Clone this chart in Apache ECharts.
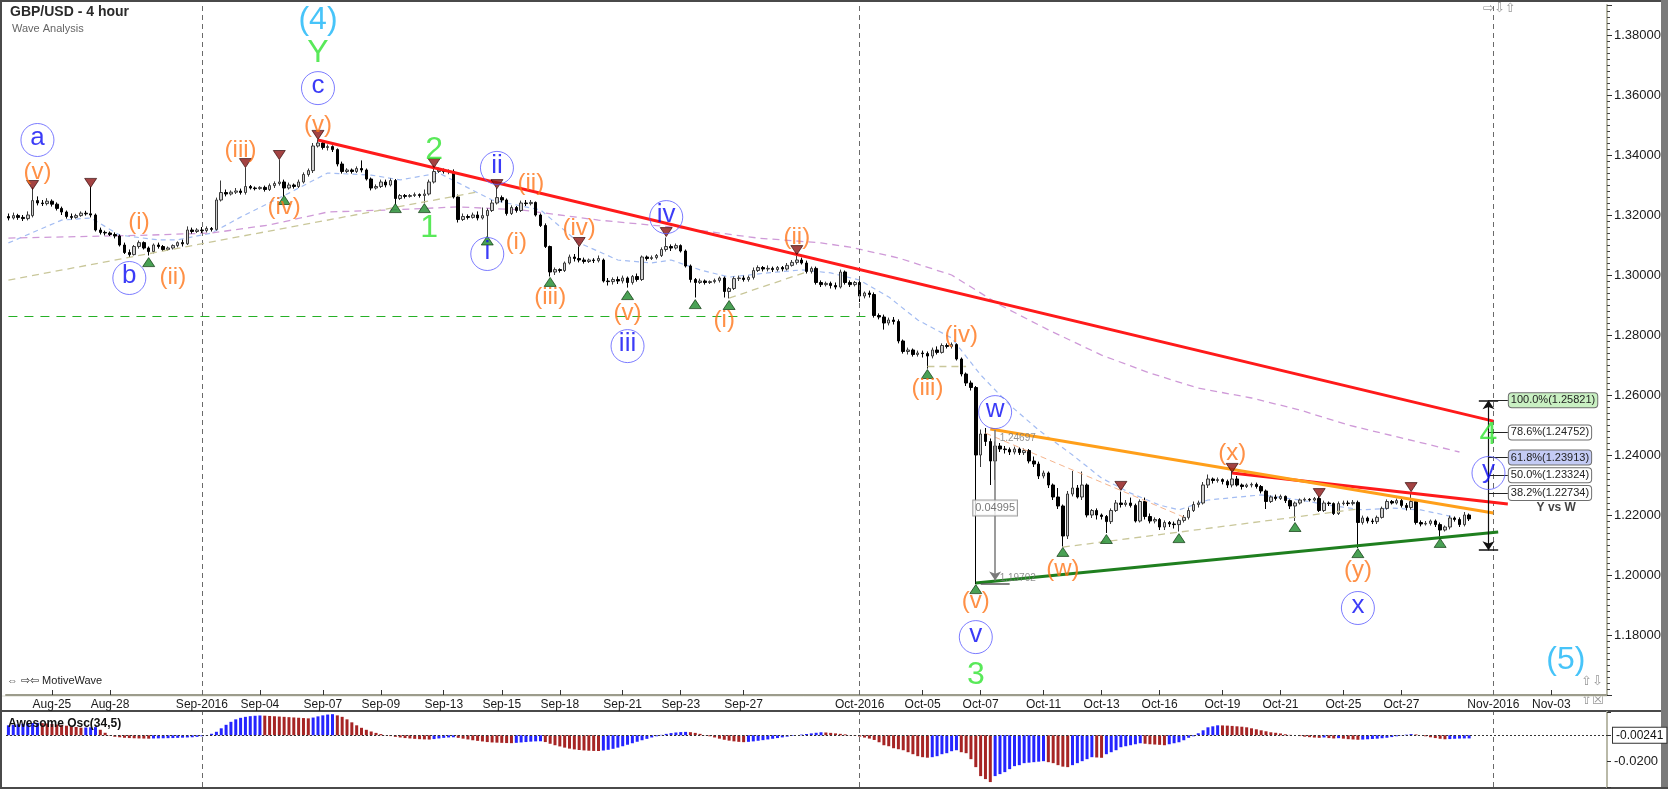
<!DOCTYPE html>
<html><head><meta charset="utf-8">
<script src="https://cdn.jsdelivr.net/npm/echarts/dist/echarts.min.js"></script>
<style>html,body{margin:0;padding:0;background:#fff}#c{width:1668px;height:789px}</style>
</head><body><div id="c"></div><script>
// ---------- DATA ----------
const sessions = [
 ['08-23',3],['08-24',6],['08-25',6],['08-26',6],['08-28',1],['08-29',6],['08-30',6],['08-31',6],
 ['09-01',6],['09-02',6],['09-04',1],['09-05',6],['09-06',6],['09-07',6],['09-08',6],['09-09',6],
 ['09-11',1],['09-12',6],['09-13',6],['09-14',6],['09-15',6],['09-16',6],
 ['09-18',1],['09-19',6],['09-20',6],['09-21',6],['09-22',6],['09-23',6],
 ['09-25',1],['09-26',6],['09-27',6],['09-28',6],['09-29',6],['09-30',6],
 ['10-02',1],['10-03',6],['10-04',6],['10-05',6],['10-06',6],['10-07',6],
 ['10-09',1],['10-10',6],['10-11',6],['10-12',6],['10-13',6],['10-14',6],
 ['10-16',1],['10-17',6],['10-18',6],['10-19',6],['10-20',6],['10-21',6],
 ['10-23',1],['10-24',6],['10-25',6],['10-26',6],['10-27',6],['10-28',6],
 ['10-30',1],['10-31',6],['11-01',6],['11-02',6],['11-03',6],['11-04',6]
];
const dateTicks = [['08-25','Aug-25'],['08-28','Aug-28'],['09-01','Sep-2016'],['09-04','Sep-04'],['09-07','Sep-07'],['09-09','Sep-09'],['09-13','Sep-13'],['09-15','Sep-15'],['09-18','Sep-18'],['09-21','Sep-21'],['09-23','Sep-23'],['09-27','Sep-27'],['10-02','Oct-2016'],['10-05','Oct-05'],['10-07','Oct-07'],['10-11','Oct-11'],['10-13','Oct-13'],['10-16','Oct-16'],['10-19','Oct-19'],['10-21','Oct-21'],['10-25','Oct-25'],['10-27','Oct-27'],['11-01','Nov-2016'],['11-03','Nov-03']];
const monthStarts = ['09-01','10-02','11-01'];

// [open, close, low, high]
const candles = [
[1.3195,1.3190,1.3182,1.3205],[1.3190,1.3198,1.3185,1.3208],[1.3198,1.3192,1.3184,1.3204],
[1.3192,1.3188,1.3180,1.3200],[1.3188,1.3200,1.3182,1.3212],[1.3198,1.3248,1.3192,1.3292],[1.3248,1.3240,1.3232,1.3262],[1.3240,1.3238,1.3230,1.3250],[1.3238,1.3246,1.3232,1.3256],
[1.3246,1.3236,1.3228,1.3252],[1.3236,1.3222,1.3215,1.3242],[1.3222,1.3210,1.3200,1.3228],[1.3210,1.3195,1.3188,1.3215],[1.3195,1.3192,1.3185,1.3205],[1.3192,1.3198,1.3188,1.3204],
[1.3198,1.3206,1.3194,1.3212],[1.3206,1.3204,1.3198,1.3214],[1.3204,1.3200,1.3192,1.3295],[1.3200,1.3150,1.3145,1.3205],[1.3150,1.3142,1.3135,1.3158],[1.3142,1.3140,1.3132,1.3148],
[1.3140,1.3135,1.3130,1.3145],
[1.3135,1.3130,1.3122,1.3142],[1.3130,1.3100,1.3095,1.3135],[1.3100,1.3075,1.3070,1.3108],[1.3075,1.3068,1.3060,1.3085],[1.3068,1.3095,1.3065,1.3100],[1.3095,1.3108,1.3088,1.3115],
[1.3108,1.3090,1.3085,1.3112],[1.3090,1.3078,1.3065,1.3095],[1.3078,1.3100,1.3072,1.3105],[1.3100,1.3095,1.3088,1.3108],[1.3095,1.3085,1.3080,1.3100],[1.3085,1.3090,1.3080,1.3095],
[1.3090,1.3098,1.3085,1.3102],[1.3098,1.3108,1.3092,1.3112],[1.3108,1.3104,1.3095,1.3118],[1.3104,1.3150,1.3100,1.3162],[1.3150,1.3145,1.3138,1.3158],[1.3145,1.3150,1.3140,1.3156],
[1.3150,1.3148,1.3140,1.3160],[1.3148,1.3155,1.3142,1.3162],[1.3155,1.3152,1.3145,1.3160],[1.3152,1.3250,1.3148,1.3258],[1.3250,1.3275,1.3245,1.3315],[1.3275,1.3270,1.3262,1.3285],
[1.3270,1.3276,1.3265,1.3282],[1.3276,1.3280,1.3270,1.3290],[1.3280,1.3275,1.3268,1.3288],[1.3275,1.3295,1.3268,1.3358],[1.3295,1.3290,1.3285,1.3300],[1.3290,1.3288,1.3282,1.3295],
[1.3288,1.3292,1.3284,1.3296],
[1.3292,1.3285,1.3278,1.3298],[1.3285,1.3298,1.3280,1.3305],[1.3298,1.3305,1.3290,1.3312],[1.3305,1.3310,1.3298,1.3385],[1.3310,1.3290,1.3262,1.3318],[1.3290,1.3300,1.3285,1.3308],
[1.3300,1.3295,1.3288,1.3305],[1.3295,1.3310,1.3290,1.3318],[1.3310,1.3335,1.3305,1.3342],[1.3335,1.3348,1.3328,1.3355],[1.3348,1.3430,1.3340,1.3440],[1.3430,1.3440,1.3425,1.3452],
[1.3440,1.3425,1.3418,1.3445],[1.3425,1.3428,1.3415,1.3435],[1.3428,1.3418,1.3410,1.3432],[1.3418,1.3370,1.3362,1.3422],[1.3370,1.3345,1.3338,1.3378],[1.3345,1.3350,1.3340,1.3356],
[1.3350,1.3345,1.3338,1.3355],[1.3345,1.3355,1.3340,1.3362],[1.3355,1.3350,1.3342,1.3382],[1.3350,1.3320,1.3315,1.3355],[1.3320,1.3290,1.3282,1.3325],[1.3290,1.3295,1.3285,1.3302],
[1.3295,1.3310,1.3290,1.3318],[1.3310,1.3300,1.3292,1.3318],[1.3300,1.3315,1.3295,1.3322],[1.3315,1.3255,1.3235,1.3320],[1.3255,1.3265,1.3250,1.3270],[1.3265,1.3262,1.3255,1.3270],
[1.3262,1.3265,1.3258,1.3270],
[1.3265,1.3268,1.3260,1.3275],[1.3268,1.3265,1.3258,1.3272],[1.3265,1.3270,1.3240,1.3285],[1.3270,1.3310,1.3265,1.3318],[1.3310,1.3345,1.3305,1.3365],[1.3345,1.3350,1.3340,1.3358],
[1.3350,1.3345,1.3338,1.3355],[1.3345,1.3348,1.3336,1.3352],[1.3345,1.3260,1.3255,1.3352],[1.3260,1.3185,1.3175,1.3268],[1.3185,1.3195,1.3180,1.3205],[1.3195,1.3192,1.3185,1.3202],
[1.3192,1.3200,1.3188,1.3208],[1.3200,1.3190,1.3182,1.3212],[1.3190,1.3198,1.3185,1.3225],[1.3198,1.3215,1.3130,1.3222],[1.3215,1.3240,1.3210,1.3250],[1.3240,1.3258,1.3235,1.3290],
[1.3258,1.3250,1.3242,1.3265],[1.3250,1.3205,1.3198,1.3255],[1.3205,1.3225,1.3200,1.3232],[1.3225,1.3215,1.3208,1.3230],[1.3215,1.3240,1.3210,1.3248],[1.3240,1.3238,1.3230,1.3250],
[1.3238,1.3242,1.3232,1.3250],[1.3242,1.3200,1.3195,1.3245],[1.3200,1.3165,1.3160,1.3205],[1.3165,1.3095,1.3090,1.3172],[1.3095,1.3010,1.2995,1.3098],[1.3010,1.3018,1.3000,1.3025],
[1.3018,1.3015,1.3008,1.3022],
[1.3015,1.3040,1.3010,1.3045],[1.3040,1.3060,1.3035,1.3068],[1.3060,1.3055,1.3045,1.3070],[1.3055,1.3050,1.3042,1.3095],[1.3050,1.3045,1.3038,1.3058],[1.3045,1.3050,1.3040,1.3055],
[1.3050,1.3048,1.3040,1.3056],[1.3048,1.3055,1.3042,1.3065],[1.3050,1.2980,1.2975,1.3055],[1.2980,1.2978,1.2965,1.2990],[1.2978,1.2985,1.2968,1.2992],[1.2985,1.2980,1.2970,1.2995],
[1.2980,1.2990,1.2972,1.2998],[1.2990,1.2975,1.2958,1.2995],[1.2975,1.2995,1.2968,1.3000],[1.2995,1.2985,1.2978,1.3005],[1.2985,1.3060,1.2980,1.3065],[1.3060,1.3055,1.3048,1.3065],
[1.3055,1.3058,1.3050,1.3065],[1.3058,1.3065,1.3052,1.3070],[1.3065,1.3085,1.3060,1.3092],[1.3085,1.3095,1.3078,1.3125],[1.3095,1.3090,1.3080,1.3102],[1.3090,1.3098,1.3085,1.3105],
[1.3098,1.3080,1.3075,1.3102],[1.3080,1.3030,1.3025,1.3085],[1.3030,1.2985,1.2975,1.3035],[1.2985,1.2975,1.2925,1.2990],[1.2975,1.2980,1.2970,1.2988],[1.2980,1.2975,1.2968,1.2985],
[1.2975,1.2978,1.2970,1.2982],
[1.2978,1.2982,1.2972,1.2988],[1.2982,1.2990,1.2975,1.2995],[1.2990,1.2945,1.2925,1.2995],[1.2945,1.2955,1.2922,1.2960],[1.2955,1.2988,1.2950,1.2995],[1.2988,1.2990,1.2980,1.2998],
[1.2990,1.2985,1.2978,1.2998],[1.2985,1.2992,1.2978,1.2998],[1.2992,1.3015,1.2985,1.3025],[1.3015,1.3025,1.3010,1.3032],[1.3025,1.3020,1.3012,1.3030],[1.3020,1.3022,1.3012,1.3032],
[1.3022,1.3018,1.3010,1.3028],[1.3018,1.3025,1.3012,1.3030],[1.3025,1.3020,1.3012,1.3030],[1.3020,1.3032,1.3015,1.3040],[1.3032,1.3042,1.3028,1.3050],[1.3042,1.3050,1.3035,1.3065],
[1.3050,1.3040,1.3035,1.3058],[1.3040,1.3012,1.3005,1.3048],[1.3012,1.3022,1.3005,1.3028],[1.3022,1.2975,1.2968,1.3028],[1.2975,1.2968,1.2960,1.2982],[1.2968,1.2972,1.2962,1.2978],
[1.2972,1.2965,1.2955,1.2978],[1.2965,1.2960,1.2952,1.2975],[1.2960,1.3010,1.2955,1.3018],[1.3010,1.2975,1.2968,1.3015],[1.2975,1.2968,1.2960,1.2982],[1.2968,1.2975,1.2962,1.2980],
[1.2975,1.2930,1.2910,1.2980],
[1.2930,1.2940,1.2922,1.2945],[1.2940,1.2935,1.2925,1.2948],[1.2935,1.2865,1.2858,1.2942],[1.2865,1.2860,1.2852,1.2872],[1.2860,1.2840,1.2818,1.2868],[1.2840,1.2850,1.2832,1.2858],
[1.2850,1.2845,1.2835,1.2860],[1.2845,1.2780,1.2772,1.2852],[1.2780,1.2745,1.2738,1.2785],[1.2745,1.2750,1.2735,1.2758],[1.2750,1.2735,1.2728,1.2755],[1.2735,1.2740,1.2728,1.2748],
[1.2740,1.2738,1.2725,1.2748],[1.2738,1.2730,1.2688,1.2745],[1.2730,1.2750,1.2722,1.2758],[1.2750,1.2742,1.2735,1.2762],[1.2742,1.2765,1.2738,1.2772],[1.2765,1.2762,1.2755,1.2772],
[1.2762,1.2768,1.2755,1.2775],[1.2768,1.2720,1.2715,1.2772],[1.2720,1.2670,1.2662,1.2725],[1.2670,1.2640,1.2630,1.2675],[1.2640,1.2625,1.2615,1.2648],[1.2625,1.2400,1.1970,1.2630],
[1.2400,1.2470,1.2360,1.2485],[1.2470,1.2445,1.2430,1.2490],[1.2445,1.2380,1.2300,1.2455],[1.2380,1.2430,1.2317,1.2445],[1.2430,1.2420,1.2410,1.2440],[1.2420,1.2418,1.2405,1.2430],
[1.2418,1.2410,1.2400,1.2425],
[1.2410,1.2420,1.2402,1.2428],[1.2420,1.2408,1.2400,1.2425],[1.2408,1.2415,1.2400,1.2422],[1.2415,1.2380,1.2372,1.2420],[1.2380,1.2370,1.2360,1.2395],[1.2370,1.2330,1.2320,1.2378],
[1.2330,1.2340,1.2322,1.2348],[1.2340,1.2300,1.2290,1.2345],[1.2300,1.2260,1.2250,1.2305],[1.2260,1.2230,1.2220,1.2290],[1.2230,1.2130,1.2095,1.2235],[1.2130,1.2270,1.2120,1.2280],
[1.2270,1.2290,1.2262,1.2347],[1.2290,1.2260,1.2255,1.2300],[1.2260,1.2300,1.2250,1.2345],[1.2300,1.2200,1.2192,1.2305],[1.2200,1.2215,1.2190,1.2220],[1.2215,1.2200,1.2185,1.2222],
[1.2200,1.2195,1.2185,1.2205],[1.2195,1.2178,1.2140,1.2200],[1.2178,1.2215,1.2170,1.2222],[1.2215,1.2240,1.2210,1.2250],[1.2240,1.2235,1.2225,1.2278],[1.2235,1.2240,1.2228,1.2250],
[1.2240,1.2232,1.2225,1.2258],[1.2232,1.2180,1.2175,1.2238],[1.2180,1.2245,1.2175,1.2252],[1.2245,1.2195,1.2185,1.2258],[1.2195,1.2180,1.2172,1.2205],[1.2180,1.2185,1.2172,1.2192],
[1.2185,1.2160,1.2150,1.2190],
[1.2160,1.2175,1.2150,1.2182],[1.2175,1.2170,1.2160,1.2180],[1.2170,1.2168,1.2155,1.2178],[1.2168,1.2182,1.2145,1.2188],[1.2182,1.2192,1.2175,1.2200],[1.2192,1.2215,1.2185,1.2225],
[1.2215,1.2235,1.2210,1.2245],[1.2235,1.2240,1.2225,1.2248],[1.2240,1.2300,1.2235,1.2310],[1.2300,1.2320,1.2290,1.2335],[1.2320,1.2315,1.2305,1.2325],[1.2315,1.2318,1.2308,1.2325],
[1.2318,1.2312,1.2302,1.2322],[1.2312,1.2300,1.2290,1.2318],[1.2300,1.2320,1.2292,1.2345],[1.2320,1.2300,1.2295,1.2330],[1.2300,1.2295,1.2285,1.2305],[1.2295,1.2300,1.2290,1.2305],
[1.2300,1.2302,1.2292,1.2308],[1.2302,1.2295,1.2288,1.2308],[1.2295,1.2280,1.2272,1.2300],[1.2280,1.2245,1.2220,1.2285],[1.2245,1.2260,1.2240,1.2265],[1.2260,1.2255,1.2248,1.2268],
[1.2255,1.2262,1.2250,1.2268],[1.2262,1.2248,1.2240,1.2265],[1.2248,1.2230,1.2220,1.2252],[1.2230,1.2240,1.2180,1.2245],[1.2240,1.2250,1.2235,1.2255],[1.2250,1.2252,1.2245,1.2258],
[1.2252,1.2250,1.2245,1.2256],
[1.2250,1.2255,1.2245,1.2260],[1.2255,1.2215,1.2210,1.2262],[1.2215,1.2240,1.2210,1.2248],[1.2240,1.2238,1.2230,1.2245],[1.2238,1.2205,1.2200,1.2242],[1.2205,1.2238,1.2200,1.2245],
[1.2238,1.2240,1.2232,1.2248],[1.2240,1.2238,1.2230,1.2248],[1.2238,1.2242,1.2232,1.2250],[1.2242,1.2175,1.2090,1.2248],[1.2175,1.2190,1.2168,1.2198],[1.2190,1.2180,1.2172,1.2195],
[1.2180,1.2178,1.2170,1.2188],[1.2178,1.2192,1.2170,1.2198],[1.2192,1.2222,1.2188,1.2228],[1.2222,1.2245,1.2218,1.2252],[1.2245,1.2240,1.2235,1.2250],[1.2240,1.2248,1.2235,1.2255],
[1.2248,1.2232,1.2225,1.2255],[1.2232,1.2225,1.2215,1.2240],[1.2225,1.2245,1.2218,1.2275],[1.2245,1.2175,1.2168,1.2250],[1.2175,1.2170,1.2162,1.2182],[1.2170,1.2172,1.2165,1.2180],
[1.2172,1.2180,1.2165,1.2185],[1.2180,1.2168,1.2160,1.2185],[1.2168,1.2150,1.2128,1.2175],[1.2150,1.2160,1.2145,1.2165],[1.2160,1.2190,1.2152,1.2198],[1.2190,1.2185,1.2178,1.2195],
[1.2185,1.2168,1.2160,1.2192],
[1.2168,1.2200,1.2162,1.2210],[1.2200,1.2187,1.2180,1.2205]
];

// Awesome Oscillator (34,5)
const ao = [
0.00770,0.00809,0.00847,0.00886,0.00924,0.00947,0.00963,
0.00939,0.00909,0.00870,0.00832,0.00785,0.00739,0.00693,0.00639,0.00585,
0.00601,0.00616,0.00631,
0.00424,0.00193,
-0.00039,-0.00116,-0.00154,-0.00193,-0.00216,-0.00231,-0.00246,-0.00254,-0.00262,
-0.00246,-0.00239,-0.00231,-0.00223,-0.00216,-0.00200,-0.00185,-0.00169,-0.00154,-0.00123,-0.00077,-0.00023,
0.00116,0.00270,0.00539,0.00809,0.01040,0.01232,0.01348,0.01425,0.01478,0.01509,0.01532,
0.01517,0.01494,0.01471,0.01448,0.01425,0.01401,0.01378,0.01355,0.01332,0.01309,
0.01371,0.01463,0.01540,0.01602,0.01632,
0.01540,0.01425,0.01232,0.01001,0.00770,0.00578,0.00424,0.00293,0.00185,
0.00092,0.00015,-0.00062,-0.00123,-0.00169,-0.00216,-0.00246,-0.00277,-0.00300,-0.00316,-0.00331,
-0.00293,-0.00246,-0.00200,-0.00169,-0.00154,
-0.00200,-0.00262,-0.00323,-0.00385,-0.00431,-0.00477,-0.00524,-0.00554,-0.00570,-0.00585,-0.00601,-0.00608,
-0.00585,-0.00554,-0.00524,-0.00493,-0.00470,-0.00462,
-0.00524,-0.00655,-0.00770,-0.00862,-0.00955,-0.01032,-0.01093,-0.01140,-0.01170,-0.01194,-0.01209,-0.01217,
-0.01178,-0.01124,-0.01047,-0.00955,-0.00847,-0.00732,-0.00616,-0.00501,-0.00385,-0.00277,-0.00169,-0.00077,
0.00031,0.00108,0.00169,0.00216,0.00246,0.00262,
0.00239,0.00185,0.00108,0.00015,-0.00077,-0.00169,-0.00262,-0.00347,-0.00416,-0.00470,-0.00508,-0.00531,
-0.00508,-0.00470,-0.00424,-0.00377,-0.00323,-0.00270,-0.00216,-0.00162,-0.00108,-0.00054,0.00000,0.00054,0.00100,0.00146,0.00193,0.00231,
0.00216,0.00185,0.00146,0.00108,0.00069,0.00023,
-0.00039,-0.00100,-0.00177,-0.00254,-0.00362,-0.00539,-0.00770,-0.00847,-0.01001,-0.01078,-0.01155,-0.01309,-0.01463,-0.01617,-0.01694,-0.01733,
-0.01694,-0.01617,-0.01463,-0.01386,-0.01232,-0.01155,
-0.01309,-0.01386,-0.01848,-0.02464,-0.03157,-0.03388,-0.03619,
-0.03157,-0.03003,-0.02849,-0.02618,-0.02387,-0.02310,-0.02156,-0.02118,-0.02079,-0.02041,-0.02002,
-0.02079,-0.02156,-0.02310,-0.02426,-0.02464,
-0.02310,-0.02156,-0.02002,-0.01848,-0.01694,
-0.01717,-0.01740,
-0.01463,-0.01309,-0.01155,-0.00924,-0.00847,-0.00770,-0.00693,-0.00616,
-0.00655,-0.00693,-0.00716,-0.00739,-0.00770,
-0.00693,-0.00616,-0.00539,-0.00385,-0.00193,-0.00077,
0.00154,0.00385,0.00616,0.00693,0.00770,
0.00762,0.00747,0.00724,0.00693,0.00662,0.00616,0.00539,0.00462,0.00385,0.00308,0.00231,0.00193,0.00139,0.00077,
0.00031,0.00000,
-0.00062,-0.00108,-0.00146,-0.00177,-0.00200,-0.00169,-0.00216,-0.00246,-0.00223,
-0.00262,-0.00300,-0.00323,-0.00347,-0.00331,-0.00308,-0.00285,-0.00262,-0.00231,-0.00193,
-0.00139,-0.00077,-0.00015,0.00046,0.00092,
0.00062,0.00000,-0.00077,-0.00154,-0.00216,-0.00270,-0.00308,
-0.00293,-0.00270,-0.00254,-0.00245,-0.00241
];
const aoLast = -0.00241;

// moving averages: [barIndex, price]
const maFast = [[0,1.3107],[11,1.3183],[17,1.3190],[23,1.3133],[31,1.3117],[35,1.3117],[42,1.3140],[48,1.3193],[58,1.3273],[66,1.3340],[75,1.3333],[81,1.3317],[89,1.3340],[93,1.3307],[100,1.3250],[110,1.3217],[118,1.3107],[126,1.3050],[133,1.3040],[137,1.3050],[143,1.3017],[149,1.2993],[157,1.3007],[164,1.3017],[170,1.3007],[176,1.2983],[182,1.2927],[188,1.2850],[195,1.2790],[201,1.2667],[207,1.2567],[213,1.2483],[220,1.2400],[226,1.2323],[232,1.2273],[238,1.2233],[242,1.2217],[248,1.2250],[259,1.2267],[267,1.2250],[273,1.2233],[280,1.2217],[286,1.2223],[292,1.2217],[299,1.2193]];
const maSlow = [[0,1.3123],[29,1.3133],[42,1.3140],[54,1.3167],[66,1.3210],[79,1.3217],[93,1.3227],[106,1.3217],[122,1.3183],[139,1.3157],[155,1.3123],[168,1.3107],[174,1.3093],[184,1.3057],[195,1.3000],[205,1.2900],[215,1.2817],[226,1.2733],[236,1.2673],[246,1.2623],[257,1.2590],[267,1.2550],[277,1.2500],[300,1.2410]];

// swing markers [barIndex, price]
const highMarks = [[5,1.3300],[17,1.3307],[49,1.3373],[56,1.3400],[64,1.3467],[88,1.3373],[101,1.3303],[118,1.3110],[136,1.3143],[163,1.3083],[230,1.2297],[253,1.2357],[271,1.2273],[290,1.2293]];
const lowMarks = [[29,1.3043],[57,1.3250],[80,1.3223],[86,1.3223],[99,1.3115],[112,1.2977],[128,1.2933],[142,1.2903],[149,1.2900],[190,1.2670],[200,1.1953],[218,1.2077],[227,1.2120],[242,1.2123],[266,1.2160],[279,1.2073],[296,1.2107]];

// wave labels [text, barIndex, price]
const orangeLabels = [['(v)',64,1.3500],['(v)',6,1.3343],['(i)',27,1.3177],['(ii)',34,1.2993],['(iii)',48,1.3417],['(iv)',57,1.3227],['(ii)',108,1.3307],['(i)',105,1.3110],['(iii)',112,1.2927],['(iv)',118,1.3157],['(v)',128,1.2873],['(ii)',163,1.3127],['(i)',148,1.2850],['(iv)',197,1.2800],['(iii)',190,1.2623],['(w)',218,1.2020],['(v)',200,1.1913],['(x)',253,1.2407],['(y)',279,1.2017]];
const circledLabels = [['a',6,1.3450],['b',25,1.2990],['c',64,1.3623],['ii',101,1.3357],['i',99,1.3070],['iii',128,1.2763],['iv',136,1.3193],['w',204,1.2543],['v',200,1.1793],['x',279,1.1890],['y',306,1.2340]];
const greenLabels = [['Y',64,1.3740],['2',88,1.3417],['1',87,1.3157],['3',200,1.1667],['4',306,1.2467]];
const cyanLabels = [['(4)',64,1.3850],['(5)',322,1.1717]];

// drawn lines [i1,p1,i2,p2]
const redLines = [[64,1.3450,307,1.2513],[253,1.2340,310,1.2237]];
const orangeLine = [203,1.2487,307,1.2207];
const greenLine = [200,1.1973,308,1.2143];
const greenDashed = [0,1.2863,178,1.2863];
const khakiLines = [[0,1.2983,97,1.3277],[149,1.2923,165,1.3010],[190,1.2697,198,1.2697],[218,1.2093,279,1.2220]];
const lightOrangeDashed = [202,1.2473,243,1.2193];
const measureLine = [204,1.2483,204,1.1982];
const measureBase = [201,1.1970,207,1.1970];
const measureTexts = [['1.24697',204,1.2455],['1.19702',204,1.1990]];
const measureBox = ['0.04995',204,1.2223];

// Fibonacci projection (Y vs W)
const fibTop = 1.25821, fibBottom = 1.20826, fibX = 306;
const fibLevels = [['100.0%',1.25821],['78.6%',1.24752],['61.8%',1.23913],['50.0%',1.23324],['38.2%',1.22734]];
const priceTags = [[1.2160,''],[1.22169,'1.22169'],[1.21866,'1.21866'],[1.24071,'1.24071']];

// ---------- CHART ----------
const FONT = '"Liberation Sans", Arial, sans-serif';
const cats = []; const firstBar = {};
sessions.forEach(([d,n]) => {
  const hrs = n === 6 ? ['00','04','08','12','16','20'] : n === 3 ? ['12','16','20'] : ['20'];
  hrs.forEach((h,k) => { const c = '2016-' + d + ' ' + h + ':00'; if (k === 0) firstBar[d] = c; cats.push(c); });
});
const tickMap = {}; dateTicks.forEach(([d,l]) => { tickMap[firstBar[d]] = l; });
const showTick = (i, v) => tickMap[v] !== undefined;

function seg(a, lineStyle, ends) {
  ends = ends || ['none','none'];
  return [{coord:[a[0],a[1]], lineStyle: lineStyle, symbol: ends[0], symbolSize: 9, label:{show:false}},
          {coord:[a[2],a[3]], symbol: ends[1], symbolSize: 9}];
}
const ml = [];
monthStarts.forEach(d => ml.push({xAxis: firstBar[d], lineStyle:{color:'#6a6a6a', type:[5,4], width:1}, label:{show:false}}));
khakiLines.forEach(k => ml.push(seg(k, {color:'#c9c79a', type:[7,5], width:1.3})));
ml.push(seg(greenDashed, {color:'#26b026', type:[9,7], width:1.2}));
ml.push(seg(lightOrangeDashed, {color:'#f5b58e', type:[6,4], width:1}));
redLines.forEach(r => ml.push(seg(r, {color:'#ff1a1a', width:3, type:'solid'})));
ml.push(seg(orangeLine, {color:'#ff9f1a', width:3, type:'solid'}));
ml.push(seg(greenLine, {color:'#1f7f1f', width:3, type:'solid'}));
ml.push(seg(measureLine, {color:'#7a7a7a', width:1.5, type:'solid'}, ['none','arrow']));
ml.push(seg(measureBase, {color:'#555', width:1.5, type:'solid'}));
// fib tool
ml.push(seg([fibX,fibBottom,fibX,fibTop], {color:'#111', width:1.2, type:'solid'}, ['arrow','arrow']));
ml.push(seg([fibX-2,fibTop,fibX+2,fibTop], {color:'#111', width:1.5, type:'solid'}));
ml.push(seg([fibX-2,fibBottom,fibX+2,fibBottom], {color:'#111', width:1.5, type:'solid'}));
fibLevels.forEach(([pct,v]) => {
  const bg = pct === '100.0%' ? '#c9f0c2' : pct === '61.8%' ? '#c4cbf5' : '#ffffff';
  ml.push([{coord:[fibX,v], lineStyle:{color:'#222', width:1, type:'solid'}, symbol:'none',
            label:{show:true, position:'end', distance:1, formatter: pct + '(' + v.toFixed(5) + ')',
                   backgroundColor:bg, borderColor:'#6f6f6f', borderWidth:1, borderRadius:3,
                   padding:[2,2,1,2], fontSize:11, color:'#222', fontFamily:FONT}},
           {coord:[fibX+4,v], symbol:'none'}]);
});
// right-axis price tags
const tagStyles = {'':['#f2c4c4','#d08080'],'1.22169':['#cfe6f6','#7aa0c0'],'1.21866':['#b2baf2','#5560c0'],'1.24071':['#ffffff','#333333']};
priceTags.forEach(([v,t]) => {
  const s = tagStyles[t];
  ml.push({yAxis: v, lineStyle:{opacity:0, width:0}, symbol:'none',
    label:{show:true, position:'end', distance:6, formatter: t === '' ? '          ' : t, backgroundColor:s[0], borderColor:s[1], borderWidth:1,
           borderRadius:2, padding:[2,4,1,4], fontSize:13, color:'#111', fontFamily:FONT}});
});

function textSeries(list, opt) {
  return {
    type:'scatter', xAxisIndex:0, yAxisIndex:0, silent:true, z: 6,
    symbol:'circle', symbolSize: opt.circle ? 33 : 1,
    itemStyle: opt.circle ? {color:'rgba(255,255,255,0)', borderColor:'#5b5bff', borderWidth:1} : {color:'rgba(0,0,0,0)'},
    label:{show:true, position:'inside', formatter:'{b}', color:opt.color, fontSize:opt.size,
           fontFamily:FONT, fontWeight: opt.weight || 'normal', offset: opt.offset || [0,0]},
    data: list.map(([t,i,p]) => ({name:t, value:[i,p]}))
  };
}

const option = {
  animation:false,
  backgroundColor:'#ffffff',
  grid:[{left:6, right:61, top:5, height:690}, {left:6, right:61, top:712, height:75}],
  xAxis:[
    {type:'category', gridIndex:0, data:cats, boundaryGap:true,
     axisLine:{show:true, lineStyle:{color:'#9c9c8c', width:2}},
     axisTick:{show:true, interval:showTick, alignWithLabel:true, inside:true, length:5, lineStyle:{color:'#333'}},
     axisLabel:{show:true, interval:showTick, formatter:v => tickMap[v] || '', color:'#1a1a1a', fontSize:12, fontFamily:FONT, margin:4},
     splitLine:{show:false}},
    {type:'category', gridIndex:1, data:cats, boundaryGap:true,
     axisLine:{show:false}, axisTick:{show:false}, axisLabel:{show:false}, splitLine:{show:false}}
  ],
  yAxis:[
    {type:'value', gridIndex:0, position:'right', min:1.16, max:1.39, interval:0.02, scale:true,
     axisLine:{show:true, lineStyle:{color:'#b9b9a8', width:2}},
     axisTick:{show:true, length:5, lineStyle:{color:'#333'}},
     minorTick:{show:true, splitNumber:10, length:3, lineStyle:{color:'#444'}},
     axisLabel:{formatter:v => (v > 1.17 && v < 1.385) ? v.toFixed(5) : '', color:'#1a1a1a', fontSize:13, fontFamily:FONT, margin:7},
     splitLine:{show:false}},
    {type:'value', gridIndex:1, position:'right', min:-0.04, max:0.018, interval:0.02,
     axisLine:{show:true, lineStyle:{color:'#b9b9a8', width:2}},
     axisTick:{show:true, length:4, lineStyle:{color:'#333'}},
     axisLabel:{formatter:v => Math.abs(v + 0.02) < 1e-9 ? '-0.0200' : '', color:'#1a1a1a', fontSize:13, fontFamily:FONT, margin:7},
     splitLine:{show:false}}
  ],
  series:[
    {type:'line', name:'MA fast', xAxisIndex:0, yAxisIndex:0, data:maFast, symbol:'none', silent:true, z:1,
     lineStyle:{color:'#a3bcf2', width:1.2, type:[5,4]}},
    {type:'line', name:'MA slow', xAxisIndex:0, yAxisIndex:0, data:maSlow, symbol:'none', silent:true, z:1,
     lineStyle:{color:'#cf9ad8', width:1.3, type:[7,5]}},
    {type:'candlestick', name:'GBP/USD', xAxisIndex:0, yAxisIndex:0, data:candles, barWidth:3, z:2,
     itemStyle:{color:'#cfcfcf', color0:'#000000', borderColor:'#3a3a3a', borderColor0:'#000000', borderWidth:1},
     markLine:{silent:true, symbol:'none', animation:false, data:ml}},
    {type:'scatter', name:'highs', xAxisIndex:0, yAxisIndex:0, data:highMarks, symbol:'triangle', symbolRotate:180,
     symbolSize:[12,9], silent:true, z:5, itemStyle:{color:'#8c1414', borderColor:'#2a0000', borderWidth:0.8}},
    {type:'scatter', name:'lows', xAxisIndex:0, yAxisIndex:0, data:lowMarks, symbol:'triangle',
     symbolSize:[12,9], silent:true, z:5, itemStyle:{color:'#1d8a2a', borderColor:'#002a00', borderWidth:0.8}},
    textSeries(orangeLabels, {color:'#ff7418', size:24}),
    textSeries(circledLabels, {color:'#0a0af5', size:26, circle:true, offset:[0,-2]}),
    textSeries(greenLabels, {color:'#2fe32f', size:32}),
    textSeries(cyanLabels, {color:'#19b5f7', size:32}),
    {type:'scatter', xAxisIndex:0, yAxisIndex:0, silent:true, z:6, symbolSize:1, itemStyle:{color:'rgba(0,0,0,0)'},
     data:[
       {name:'Y vs W', value:[320,1.2223], label:{show:true, position:'inside', formatter:'{b}', fontWeight:'bold', fontSize:12, color:'#111', fontFamily:FONT}},
       {name:measureBox[0], value:[measureBox[1],measureBox[2]], label:{show:true, position:'inside', formatter:'{b}', fontSize:11, color:'#555', fontFamily:FONT, backgroundColor:'#fff', borderColor:'#888', borderWidth:1, padding:[2,2]}},
       ...measureTexts.map(([t,i,p]) => ({name:t, value:[i,p], label:{show:true, position:'right', distance:4, formatter:'{b}', fontSize:10, color:'#777', fontFamily:FONT}}))
     ]},
    {type:'bar', name:'Awesome Osc', xAxisIndex:1, yAxisIndex:1, barWidth:3,
     data: ao.map((v,i) => ({value:v, itemStyle:{color: (i > 0 && v < ao[i-1]) ? '#a62424' : '#2424ff'}})),
     markLine:{silent:true, symbol:'none', animation:false, data:[
       ...monthStarts.map(d => ({xAxis:firstBar[d], lineStyle:{color:'#6a6a6a', type:[5,4], width:1}, label:{show:false}})),
       {yAxis:aoLast, lineStyle:{color:'#333', type:[2,2], width:1},
        label:{show:true, position:'end', distance:6, formatter:aoLast.toFixed(5), backgroundColor:'#fff', borderColor:'#333', borderWidth:1, padding:[2,3,1,3], fontSize:12, color:'#111', fontFamily:FONT}}
     ]}}
  ],
  graphic:[
    {type:'text', left:10, top:5, style:{text:'GBP/USD - 4 hour', font:'bold 14px ' + FONT, fill:'#2a2a2a'}},
    {type:'text', left:12, top:23, style:{text:'Wave Analysis', font:'11px ' + FONT, fill:'#666'}},
    {type:'text', left:7, top:675, style:{text:'\u21D4 \u21E8\u21E6 MotiveWave', font:'11px ' + FONT, fill:'#222'}},
    {type:'text', left:8, top:718, z:10, style:{text:'Awesome Osc(34,5)', font:'bold 12px ' + FONT, fill:'#111'}},
    {type:'text', left:1483, top:2, style:{text:'\u21E8\u21E9\u21E7', font:'13px DejaVu Sans', fill:'#999'}},
    {type:'text', left:1581, top:675, style:{text:'\u21E7\u21E9', font:'13px DejaVu Sans', fill:'#999'}},
    {type:'text', left:1581, top:694, style:{text:'\u21E7\u2612', font:'13px DejaVu Sans', fill:'#999'}},
    {type:'line', shape:{x1:0, y1:711, x2:1662, y2:711}, style:{stroke:'#4a4a4a', lineWidth:2}},
    {type:'line', shape:{x1:0, y1:696, x2:1607, y2:696}, style:{stroke:'#d8d8cc', lineWidth:1}},
    {type:'rect', shape:{x:0, y:0, width:2, height:789}, style:{fill:'#4a4a4a'}},
    {type:'rect', shape:{x:0, y:0, width:1668, height:2}, style:{fill:'#4a4a4a'}},
    {type:'rect', shape:{x:1661, y:0, width:7, height:789}, style:{fill:'#7a7a7a'}},
    {type:'rect', shape:{x:0, y:787, width:1668, height:2}, style:{fill:'#4a4a4a'}}
  ]
};
const chart = echarts.init(document.getElementById('c'));
chart.setOption(option);
</script></body></html>
